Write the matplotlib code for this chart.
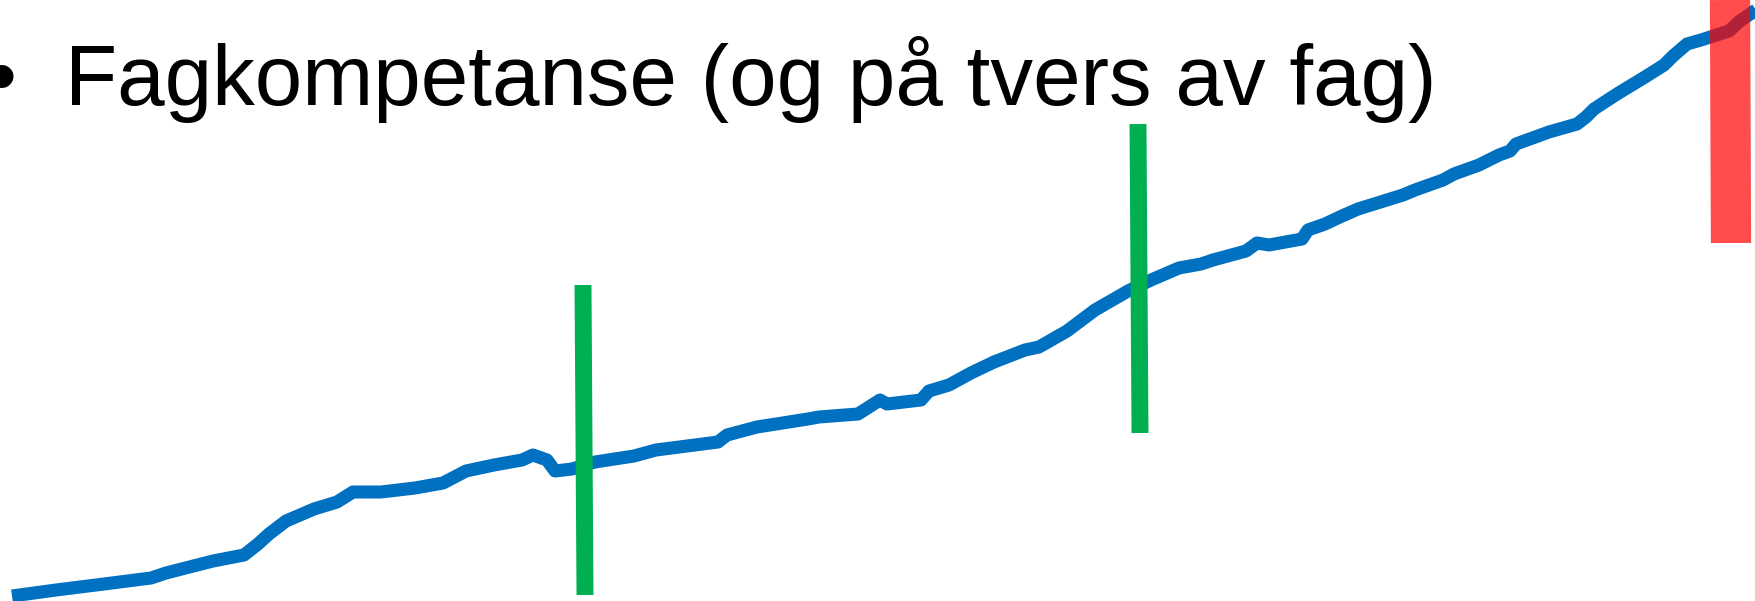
import matplotlib
matplotlib.use("Agg")
import matplotlib.pyplot as plt

# ---- data (progress curve, x = time index, y = level) ----
curve_x = [12, 56, 104, 151, 166, 213, 244, 258, 269, 286, 314, 337, 353, 381, 415,
           443, 466, 494, 522, 533, 547, 555, 572, 595, 634, 656, 718, 727, 757, 808,
           819, 858, 880, 887, 921, 929, 949, 971, 994, 1025, 1039, 1067, 1095, 1128,
           1151, 1179, 1201, 1213, 1246, 1257, 1269, 1302, 1308, 1325, 1342, 1358,
           1403, 1415, 1443, 1454, 1479, 1499, 1510, 1516, 1549, 1577, 1586, 1594,
           1617, 1645, 1664, 1673, 1687, 1701, 1729, 1740, 1756]
curve_px = [596, 590, 584, 578, 573, 561, 555, 544, 534, 521, 509, 502, 492, 492, 488,
            483, 471, 465, 460, 455, 460, 471, 469, 462, 456, 450, 442, 435, 427, 419,
            417, 414, 400, 404, 400, 391, 385, 373, 362, 350, 347, 331, 310, 291,
            280, 268, 264, 260, 251, 243, 245, 239, 230, 224, 216, 209,
            195, 190, 180, 174, 165, 155, 151, 144, 132, 124, 117, 109,
            94, 77, 65, 56, 44, 40, 31, 21, 10]
H = 601
curve_y = [H - v for v in curve_px]

# green markers: (x_top, x_bottom, top, bottom)
green_xtop = [583, 1138]
green_xbot = [585, 1140]
green_top = [H - 285, H - 124]
green_bot = [H - 595, H - 433]

# red marker
red_x = [1730, 1731]
red_top = [H - 0, H - 0]
red_bot = [H - 243, H - 243]

title_text = "Fagkompetanse (og på tvers av fag)"
bullet = "•"

fig = plt.figure(figsize=(17.56, 6.01), dpi=100)
ax = fig.add_axes([0, 0, 1, 1])
ax.set_xlim(0, 1756)
ax.set_ylim(0, H)
ax.axis("off")

ax.plot(curve_x, curve_y, color="#0070C0", lw=9.4, solid_capstyle="butt",
        solid_joinstyle="round", zorder=2)

for xt, xb, t, b in zip(green_xtop, green_xbot, green_top, green_bot):
    ax.plot([xt, xb], [t, b], color="#00B050", lw=12.2, solid_capstyle="butt", zorder=3)

ax.plot(red_x, [red_top[0], red_bot[0]], color="#FF0000", alpha=0.7, lw=29,
        solid_capstyle="butt", zorder=4)

ax.text(65, H - 105, title_text, fontsize=61.5, family="Liberation Sans",
        ha="left", va="baseline", color="black")
ax.text(2, H - 105, bullet, fontsize=61.5, family="Liberation Sans",
        ha="center", va="baseline", color="black")

fig.savefig("out.png", dpi=100)
